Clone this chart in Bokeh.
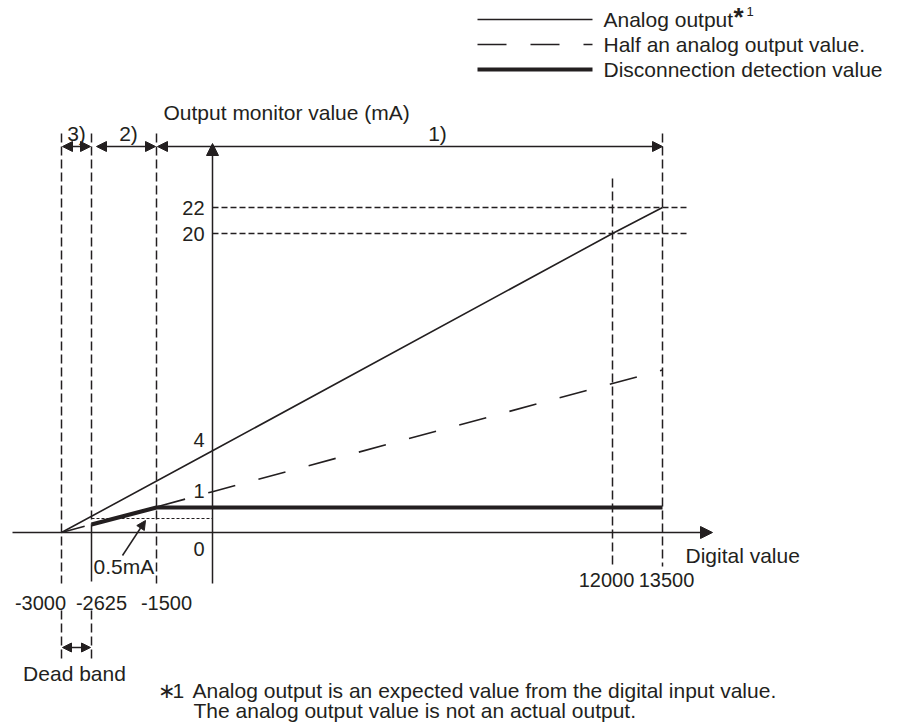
import numpy as np
from bokeh.plotting import figure
from bokeh.models import Range1d, Label, Arrow, NormalHead
from bokeh.embed import file_html
from bokeh.resources import INLINE

# ---------------- data ----------------
digital_ticks = [-3000, -2625, -1500, 0, 12000, 13500]
digital_labels = ["-3000", "-2625", "-1500", "0", "12000", "13500"]
ma_ticks = [0, 1, 4, 20, 22]
ma_labels = ["0", "1", "4", "20", "22"]
analog_x = [-3000, 0, 12000, 13500]
analog_y = [0, 4, 20, 22]
half_y = [0, 2, 10, 11]
disc_x = [-2625, -1500, 13500]
disc_y = [0.25, 1, 1]
dead_band_ma = 0.5
region_labels = ["3)", "2)", "1)"]
region_bounds = [-3000, -2625, -1500, 13500]
legend_labels = ["Analog output", "Half an analog output value.", "Disconnection detection value"]
footer_lines = ["Analog output is an expected value from the digital input value.",
                "The analog output value is not an actual output."]

# ---------------- schematic scale (diagram is not to scale) ----------------
X_KNOTS_D = [-3000, -2625, -1500, 0, 12000, 13500]
X_KNOTS_PX = [61, 91, 156, 212, 612, 662]
Y_KNOTS_MA = [0, 0.25, 0.5, 1, 2, 4, 10, 11, 20, 22]
Y_KNOTS_PX = [532, 524, 518, 507, 491.2, 450.3, 383, 369.5, 233, 207]


def sx(d):
    return np.interp(np.asarray(d, dtype=float), X_KNOTS_D, X_KNOTS_PX)


def sy(v):
    return np.interp(np.asarray(v, dtype=float), Y_KNOTS_MA, Y_KNOTS_PX)


INK = "#231f20"
FONT = "Liberation Sans"
FS = "21px"
FS_NUM = "20px"

p = figure(width=895, height=722, x_range=Range1d(0, 895), y_range=Range1d(722, 0),
           output_backend="svg", toolbar_location=None, x_axis_type=None, y_axis_type=None,
           min_border=0, min_border_left=0, min_border_right=0, min_border_top=0, min_border_bottom=0)
p.grid.visible = False
p.outline_line_color = None
p.background_fill_color = "white"
p.border_fill_color = "white"


def label(x, y, text, align="left", size=FS, style="normal", baseline="middle"):
    p.add_layout(Label(x=float(x), y=float(y), text=text, text_font=FONT, text_font_size=size,
                       text_align=align, text_baseline=baseline, text_color=INK,
                       text_font_style=style))


x0 = float(sx(0))
y0 = float(sy(0))
TOP = 133
ARROW_Y = 146

# ---------------- vertical guides ----------------
vdash = "9 4"
xm3000, xm2625, xm1500, x12000, x13500 = [float(v) for v in sx([-3000, -2625, -1500, 12000, 13500])]
p.line([xm3000, xm3000], [TOP, 583], line_color=INK, line_width=1.5, line_dash=vdash)
p.line([xm3000, xm3000], [610, 662], line_color=INK, line_width=1.5, line_dash=vdash)
ydisc0 = float(sy(disc_y[0]))
p.line([xm2625, xm2625], [TOP, ydisc0], line_color=INK, line_width=1.5, line_dash=vdash)
p.line([xm2625, xm2625], [ydisc0, 581], line_color=INK, line_width=1.5)
p.line([xm2625, xm2625], [610, 662], line_color=INK, line_width=1.5, line_dash=vdash)
p.line([xm1500, xm1500], [TOP, 583], line_color=INK, line_width=1.5, line_dash=vdash)
p.line([x12000, x12000], [178, 566], line_color=INK, line_width=1.5, line_dash=vdash)
p.line([x13500, x13500], [TOP, 566], line_color=INK, line_width=1.5, line_dash=vdash)

# horizontal guides 22 / 20
for v in (20, 22):
    yy = float(sy(v))
    p.line([x0, 686], [yy, yy], line_color=INK, line_width=1.3, line_dash="6 3")

# dead band 0.5 mA dotted line
ydb = float(sy(dead_band_ma))
p.line([xm2625, x0], [ydb, ydb], line_color=INK, line_width=1, line_dash="3 2")

# ---------------- axes ----------------
p.add_layout(Arrow(end=NormalHead(size=12, fill_color=INK, line_color=INK),
                   x_start=12, y_start=y0, x_end=712, y_end=y0, line_color=INK, line_width=1.5))
p.add_layout(Arrow(end=NormalHead(size=12, fill_color=INK, line_color=INK),
                   x_start=x0, y_start=583, x_end=x0, y_end=143, line_color=INK, line_width=1.5))

# ---------------- series ----------------
p.line(sx(analog_x), sy(analog_y), line_color=INK, line_width=1.6)
p.line(sx(analog_x), sy(half_y), line_color=INK, line_width=1.6, line_dash="28 24", line_dash_offset=4)
p.line(sx(disc_x), sy(disc_y), line_color=INK, line_width=4.2)

# ---------------- region arrows ----------------
gaps = [(1, 1), (5, 1), (1, 0)]
for i, lab in enumerate(region_labels):
    a = float(sx(region_bounds[i])) + gaps[i][0]
    b = float(sx(region_bounds[i + 1])) - gaps[i][1]
    p.add_layout(Arrow(start=NormalHead(size=10, fill_color=INK, line_color=INK),
                       end=NormalHead(size=10, fill_color=INK, line_color=INK),
                       x_start=a, y_start=ARROW_Y, x_end=b, y_end=ARROW_Y, line_color=INK, line_width=1.5))
label((xm3000 + xm2625) / 2, 133, region_labels[0], align="center")
label(128, 133, region_labels[1], align="center")
label(437, 133, region_labels[2], align="center")

# dead band arrow
p.add_layout(Arrow(start=NormalHead(size=9, fill_color=INK, line_color=INK),
                   end=NormalHead(size=9, fill_color=INK, line_color=INK),
                   x_start=xm3000 + 1, y_start=647, x_end=xm2625 - 1, y_end=647, line_color=INK, line_width=1.5))
label((xm3000 + xm2625) / 2 - 2, 673, "Dead band", align="center")

# ---------------- tick labels ----------------
label(40, 602, digital_labels[0], align="center", size=FS_NUM)
label(101, 602, digital_labels[1], align="center", size=FS_NUM)
label(166, 602, digital_labels[2], align="center", size=FS_NUM)
label(x12000 - 6, 579, digital_labels[4], align="center", size=FS_NUM)
label(x13500 + 4, 579, digital_labels[5], align="center", size=FS_NUM)

ma_offsets = {0: 16, 1: -17, 4: -11, 20: 0, 22: 0}
for t, s in zip(ma_ticks, ma_labels):
    label(x0 - 8, float(sy(t)) + ma_offsets[t], s, align="right", size=FS_NUM)

label(163, 112, "Output monitor value (mA)")
label(685, 555, "Digital value")

# 0.5 mA annotation
label(93, 566, "0.5mA")
p.add_layout(Arrow(end=NormalHead(size=9, fill_color=INK, line_color=INK),
                   x_start=122, y_start=555, x_end=145, y_end=520, line_color=INK, line_width=1.5))

# ---------------- legend ----------------
LX0, LX1, LT = 477, 592, 603
leg_y = [19, 44, 69]
p.line([LX0, LX1], [leg_y[0], leg_y[0]], line_color=INK, line_width=1.6)
p.line([LX0, LX1], [leg_y[1], leg_y[1]], line_color=INK, line_width=1.6, line_dash="29 24")
p.line([LX0, LX1], [leg_y[2], leg_y[2]], line_color=INK, line_width=4.2)
for yy, txt in zip(leg_y, legend_labels):
    label(LT, yy, txt)
label(733, 1, "*", size="26px", style="bold", baseline="top")
label(746, 11, "1", size="13px")

# ---------------- footer ----------------
label(157, 690, "\u2217")
label(172, 690, "1")
label(192, 690, footer_lines[0])
label(193, 710, footer_lines[1])

open("out.html", "w").write(file_html(p, INLINE))
